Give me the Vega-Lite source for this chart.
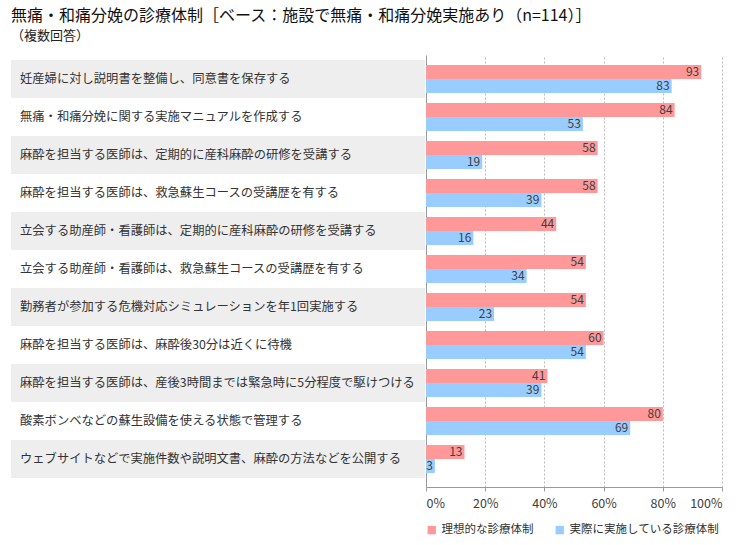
{
  "$schema": "https://vega.github.io/schema/vega-lite/v6.json",
  "padding": {"left": 11, "top": 8, "right": 10, "bottom": 5},
  "background": "white",
  "title": {
    "text": "無痛・和痛分娩の診療体制［ベース：施設で無痛・和痛分娩実施あり（n=114）］",
    "subtitle": "（複数回答）",
    "anchor": "start",
    "frame": "group",
    "fontSize": 16,
    "fontWeight": "normal",
    "color": "#111111",
    "subtitleFontSize": 13,
    "subtitleColor": "#222222",
    "subtitlePadding": 6,
    "offset": 12
  },
  "data": {
    "values": [
      {"order": 1, "item": "妊産婦に対し説明書を整備し、同意書を保存する", "series": "理想的な診療体制", "value": 93},
      {"order": 1, "item": "妊産婦に対し説明書を整備し、同意書を保存する", "series": "実際に実施している診療体制", "value": 83},
      {"order": 2, "item": "無痛・和痛分娩に関する実施マニュアルを作成する", "series": "理想的な診療体制", "value": 84},
      {"order": 2, "item": "無痛・和痛分娩に関する実施マニュアルを作成する", "series": "実際に実施している診療体制", "value": 53},
      {"order": 3, "item": "麻酔を担当する医師は、定期的に産科麻酔の研修を受講する", "series": "理想的な診療体制", "value": 58},
      {"order": 3, "item": "麻酔を担当する医師は、定期的に産科麻酔の研修を受講する", "series": "実際に実施している診療体制", "value": 19},
      {"order": 4, "item": "麻酔を担当する医師は、救急蘇生コースの受講歴を有する", "series": "理想的な診療体制", "value": 58},
      {"order": 4, "item": "麻酔を担当する医師は、救急蘇生コースの受講歴を有する", "series": "実際に実施している診療体制", "value": 39},
      {"order": 5, "item": "立会する助産師・看護師は、定期的に産科麻酔の研修を受講する", "series": "理想的な診療体制", "value": 44},
      {"order": 5, "item": "立会する助産師・看護師は、定期的に産科麻酔の研修を受講する", "series": "実際に実施している診療体制", "value": 16},
      {"order": 6, "item": "立会する助産師・看護師は、救急蘇生コースの受講歴を有する", "series": "理想的な診療体制", "value": 54},
      {"order": 6, "item": "立会する助産師・看護師は、救急蘇生コースの受講歴を有する", "series": "実際に実施している診療体制", "value": 34},
      {"order": 7, "item": "勤務者が参加する危機対応シミュレーションを年1回実施する", "series": "理想的な診療体制", "value": 54},
      {"order": 7, "item": "勤務者が参加する危機対応シミュレーションを年1回実施する", "series": "実際に実施している診療体制", "value": 23},
      {"order": 8, "item": "麻酔を担当する医師は、麻酔後30分は近くに待機", "series": "理想的な診療体制", "value": 60},
      {"order": 8, "item": "麻酔を担当する医師は、麻酔後30分は近くに待機", "series": "実際に実施している診療体制", "value": 54},
      {"order": 9, "item": "麻酔を担当する医師は、産後3時間までは緊急時に5分程度で駆けつける", "series": "理想的な診療体制", "value": 41},
      {"order": 9, "item": "麻酔を担当する医師は、産後3時間までは緊急時に5分程度で駆けつける", "series": "実際に実施している診療体制", "value": 39},
      {"order": 10, "item": "酸素ボンベなどの蘇生設備を使える状態で管理する", "series": "理想的な診療体制", "value": 80},
      {"order": 10, "item": "酸素ボンベなどの蘇生設備を使える状態で管理する", "series": "実際に実施している診療体制", "value": 69},
      {"order": 11, "item": "ウェブサイトなどで実施件数や説明文書、麻酔の方法などを公開する", "series": "理想的な診療体制", "value": 13},
      {"order": 11, "item": "ウェブサイトなどで実施件数や説明文書、麻酔の方法などを公開する", "series": "実際に実施している診療体制", "value": 3}
    ]
  },
  "spacing": 0,
  "resolve": {"scale": {"y": "independent", "x": "independent"}, "legend": {"color": "independent"}},
  "hconcat": [
    {
      "width": 414,
      "height": 432,
      "transform": [{"filter": "datum.series === '理想的な診療体制'"}],
      "encoding": {
        "y": {
          "field": "item",
          "type": "nominal",
          "sort": {"field": "order"},
          "axis": null,
          "scale": {"paddingInner": 0, "paddingOuter": 0.184, "align": 0.357}
        }
      },
      "layer": [
        {
          "mark": {"type": "rect"},
          "encoding": {
            "x": {"datum": 0, "type": "quantitative", "scale": {"domain": [0, 1]}, "axis": null},
            "x2": {"datum": 1},
            "fill": {"condition": {"test": "datum.order % 2 === 1", "value": "#EEEEEE"}, "value": "#FFFFFF"}
          }
        },
        {
          "mark": {"type": "text", "align": "left", "baseline": "middle", "dx": 9, "fontSize": 12.3, "color": "#333333"},
          "encoding": {
            "x": {"datum": 0, "type": "quantitative"},
            "text": {"field": "item"}
          }
        }
      ]
    },
    {
      "width": 296,
      "height": 432,
      "encoding": {
        "y": {
          "field": "item",
          "type": "nominal",
          "sort": {"field": "order"},
          "scale": {"paddingInner": 0.263, "paddingOuter": 0.316, "align": 0.4167},
          "axis": {"title": null, "labels": false, "ticks": false, "domain": true, "domainColor": "#999999", "grid": false}
        },
        "yOffset": {
          "field": "series",
          "type": "nominal",
          "scale": {"domain": ["理想的な診療体制", "実際に実施している診療体制"], "paddingInner": 0, "paddingOuter": 0}
        },
        "x": {
          "field": "value",
          "type": "quantitative",
          "scale": {"domain": [0, 100]},
          "axis": {
            "values": [0, 20, 40, 60, 80, 100],
            "labelExpr": "datum.value + '%'",
            "title": null,
            "grid": true,
            "gridDash": [2, 2],
            "gridColor": "#BBBBBB",
            "domainColor": "#999999",
            "tickColor": "#999999",
            "tickSize": 4,
            "labelFontSize": 12.5,
            "labelColor": "#404040",
            "labelPadding": 6
          }
        }
      },
      "layer": [
        {
          "mark": {"type": "bar"},
          "encoding": {
            "color": {
              "field": "series",
              "type": "nominal",
              "scale": {"domain": ["理想的な診療体制", "実際に実施している診療体制"], "range": ["#FF9999", "#99CCFF"]},
              "legend": {
                "orient": "bottom",
                "direction": "horizontal",
                "title": null,
                "symbolType": "square",
                "symbolSize": 70,
                "symbolStrokeWidth": 0,
                "labelFontSize": 11.5,
                "labelColor": "#333333",
                "columnPadding": 20,
                "offset": 14
              }
            }
          }
        },
        {
          "mark": {"type": "text", "align": "right", "baseline": "middle", "dx": -2, "fontSize": 12, "color": "#404040"},
          "encoding": {"text": {"field": "value", "type": "quantitative"}}
        }
      ]
    }
  ],
  "config": {
    "font": "Noto Sans CJK JP",
    "view": {"stroke": null},
    "axis": {"labelFont": "Noto Sans CJK JP"},
    "legend": {"labelFont": "Noto Sans CJK JP"}
  }
}
